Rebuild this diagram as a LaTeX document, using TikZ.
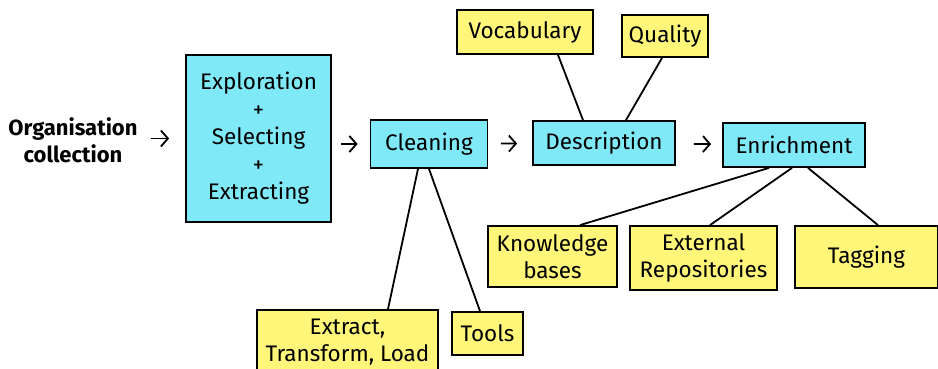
\documentclass[tikz,border=0pt]{standalone}
\usepackage{fontspec}
\setmainfont{Fira Sans}
\usepackage{tikz}
\usetikzlibrary{shapes,arrows,arrows.meta,positioning,fit,backgrounds}
\usepackage{xcolor}
\definecolor{stagecyan}{RGB}{128,233,248}
\definecolor{noteyellow}{RGB}{255,246,122}
\tikzset{
    stagebox/.style={draw, line width=1.8pt, fill=stagecyan, align=center, inner sep=0pt},
    notebox/.style={draw, line width=1.8pt, fill=noteyellow, align=center, inner sep=0pt},
    flow/.style={-{Straight Barb[length=7pt, width=16pt]}, line width=1.8pt},
    link/.style={line width=1.8pt}
}

\begin{document}
\begin{tikzpicture}[x=1pt, y=1pt, font=\fontsize{22.5}{27}\selectfont]
    \useasboundingbox[fill=white] (0,0) rectangle (938,368);
    \node[font=\fontsize{22}{27}\selectfont\bfseries, align=center, inner sep=0pt] (org) at (73,228) {Organisation\\collection};
    \node[stagebox, minimum width=145, minimum height=167, font=\fontsize{22.5}{27.5}\selectfont] (explore) at (258.5,229.5) {Exploration\\+\\Selecting\\+\\Extracting};
    \node[stagebox, minimum width=117, minimum height=48] (clean) at (429,224) {Cleaning};
    \node[stagebox, minimum width=142, minimum height=44] (desc) at (604,225) {Description};
    \node[stagebox, minimum width=142, minimum height=44] (enrich) at (794,223) {Enrichment};

    \node[notebox, minimum width=136, minimum height=44] (vocab) at (525,336) {Vocabulary};
    \node[notebox, minimum width=86, minimum height=42] (quality) at (665,332) {Quality};
    \node[notebox, minimum width=129, minimum height=61] (kb) at (552.5,111.5) {Knowledge\\bases};
    \node[notebox, minimum width=147, minimum height=64] (ext) at (703.5,110) {External\\Repositories};
    \node[notebox, minimum width=143, minimum height=62] (tag) at (866.5,111) {Tagging};
    \node[notebox, minimum width=181, minimum height=64] (etl) at (347.5,26) {Extract,\\Transform, Load};
    \node[notebox, minimum width=71, minimum height=43] (tools) at (487.5,34.5) {Tools};

    % main flow
    \draw[flow, shorten <=13pt, shorten >=16pt] (org.east |- explore) -- (explore);
    \draw[flow, shorten <=9pt, shorten >=12pt] (explore.east |- clean) -- (clean);
    \draw[flow, shorten <=12.5pt, shorten >=15pt] (clean) -- (desc);
    \draw[flow, shorten <=18pt, shorten >=11pt] (desc) -- (enrich);

    % details
    \draw[link] ([xshift=33pt]vocab.south) -- ([xshift=-21pt]desc.north);
    \draw[link] ([xshift=-3pt]quality.south) -- ([xshift=22pt]desc.north);
    \draw[link] ([xshift=-25pt]enrich.south) -- ([xshift=27.5pt]kb.north);
    \draw[link] ([xshift=-2pt]enrich.south) -- ([xshift=6.5pt]ext.north);
    \draw[link] ([xshift=14pt]enrich.south) -- ([xshift=11.5pt]tag.north);
    \draw[link] ([xshift=-11pt]clean.south) -- ([xshift=40.5pt]etl.north);
    \draw[link] (clean.south) -- ([xshift=-7.5pt]tools.north);
\end{tikzpicture}
\end{document}
